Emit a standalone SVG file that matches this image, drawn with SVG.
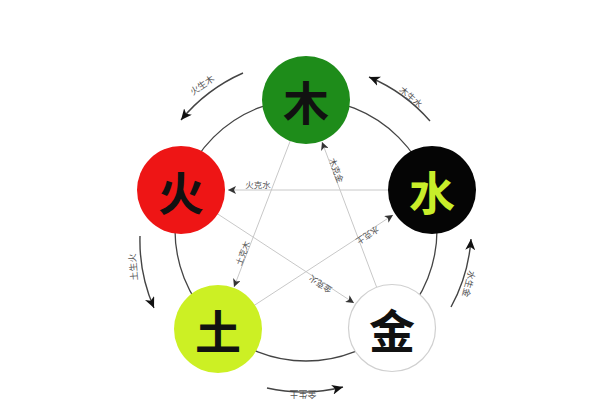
<svg xmlns="http://www.w3.org/2000/svg" width="600" height="400" viewBox="0 0 600 400">
<defs>
<style>
.node-t{font-family:"Noto Sans CJK SC","Noto Sans CJK JP",sans-serif;font-size:46px;font-weight:700;text-anchor:middle;dominant-baseline:central}
.lbl{font-family:"Noto Sans CJK SC","Noto Sans CJK JP",sans-serif;font-size:9px;fill:#555;text-anchor:middle;dominant-baseline:central}
.outer{fill:none;stroke:#444;stroke-width:1.4;marker-end:url(#ah)}
.inner{fill:none;stroke:#c8c8c8;stroke-width:1;marker-end:url(#ahs)}
</style>
<marker id="ah" markerUnits="userSpaceOnUse" markerWidth="12" markerHeight="10" refX="11" refY="5" orient="auto">
<path d="M0,0 L11,5 L0,10 L3,5 z" fill="#111"/>
</marker>
<marker id="ahs" markerUnits="userSpaceOnUse" markerWidth="9" markerHeight="8" refX="8" refY="4" orient="auto">
<path d="M0,0 L8,4 L0,8 L2,4 z" fill="#333"/>
</marker>
</defs>
<rect width="600" height="400" fill="#fff"/>
<g id="connectors">
<circle cx="306" cy="230" r="131" fill="none" stroke="#444" stroke-width="1.3"/>
<path class="outer" d="M243 73 A168 168 0 0 0 181 120"/>
<path class="outer" d="M430 121 A167 167 0 0 0 369 77"/>
<path class="outer" d="M140 236 A168 168 0 0 0 154 308"/>
<path class="outer" d="M451 307 A165 165 0 0 0 471 239"/>
<path class="outer" d="M267 388 A162 162 0 0 0 343 387"/>
<line class="inner" x1="432" y1="190" x2="228" y2="190"/>
<line class="inner" x1="392" y1="328" x2="322" y2="142"/>
<line class="inner" x1="306" y1="100" x2="234" y2="287"/>
<line class="inner" x1="218" y1="329" x2="393" y2="215"/>
<line class="inner" x1="181" y1="190" x2="354" y2="303"/>
<text class="lbl" transform="translate(202,85) rotate(-35)">火生木</text>
<text class="lbl" transform="translate(411,97) rotate(40)">木生水</text>
<text class="lbl" transform="translate(133,267) rotate(-95)">土生火</text>
<text class="lbl" transform="translate(469,284) rotate(105)">水生金</text>
<text class="lbl" transform="translate(303,394.5) rotate(180)">金生土</text>
<text class="lbl" style="font-size:8.5px" x="258" y="184">火克水</text>
<text class="lbl" style="font-size:8.5px" transform="translate(337,170) rotate(69)">木克金</text>
<text class="lbl" style="font-size:8.5px" transform="translate(242,253) rotate(-69)">土克木</text>
<text class="lbl" style="font-size:8.5px" transform="translate(368,236) rotate(147)">水克土</text>
<text class="lbl" style="font-size:8.5px" transform="translate(320,285) rotate(213)">金克火</text>
</g>
<g id="mu">
<circle cx="306" cy="100" r="44" fill="#1e8c1a"/>
<text class="node-t" x="306" y="100" fill="#111">木</text>
</g>
<g id="huo">
<circle cx="181" cy="190" r="44" fill="#ee1515"/>
<text class="node-t" x="181" y="190" fill="#111">火</text>
</g>
<g id="shui">
<circle cx="432" cy="190" r="44" fill="#050505"/>
<text class="node-t" x="432" y="190" fill="#c8ee2a">水</text>
</g>
<g id="tu">
<circle cx="218" cy="329" r="44" fill="#ccf024"/>
<text class="node-t" x="218" y="329" fill="#111">土</text>
</g>
<g id="jin">
<circle cx="392" cy="328" r="43.5" fill="#fff" stroke="#d0d0d0" stroke-width="1.2"/>
<text class="node-t" x="392" y="328" fill="#111">金</text>
</g>
</svg>
